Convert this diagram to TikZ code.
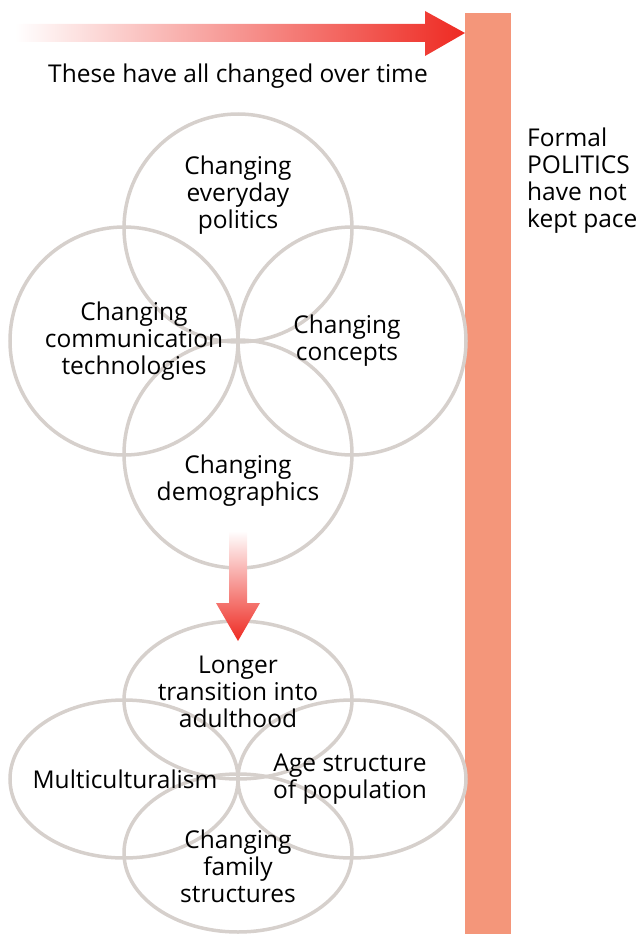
\documentclass[tikz,border=0pt]{standalone}
\usepackage{fontspec}
\setmainfont{Open Sans}
\definecolor{barsalmon}{HTML}{F4967A}
\definecolor{arrowred}{HTML}{EE2A22}
\definecolor{arrowmid}{HTML}{F39072}
\definecolor{ringgray}{HTML}{D6D0CC}
\begin{document}
\begin{tikzpicture}[x=1pt,y=-1pt,
  ring/.style={draw=ringgray,line width=3.5pt},
  lbl/.style={align=center,font=\fontsize{24.5}{27}\selectfont,inner sep=0pt,text=black}]
\useasboundingbox (0,0) rectangle (643,934);
% vertical bar
\fill[barsalmon] (465,13) rectangle (511,934);
% top arrow
\shade[left color=white,middle color=arrowmid,right color=arrowred]
  (15,24) -- (425,24) -- (425,11) -- (465,33) -- (425,56) -- (425,42) -- (15,42) -- cycle;
\node[lbl] (timelbl) at (238,76) {These have all changed over time};
\node[lbl,align=left,anchor=west] (formal) at (527,181) {Formal\\POLITICS\\have not\\kept pace};
% upper circles
\draw[ring] (238,228) circle (114);
\draw[ring] (124,341) circle (114);
\draw[ring] (352,341) circle (114);
\draw[ring] (238,454) circle (114);
\node[lbl] (everyday) at (238,195) {Changing\\everyday\\politics};
\node[lbl] (comm) at (134,341) {Changing\\communication\\technologies};
\node[lbl] (concepts) at (347,341) {Changing\\concepts};
\node[lbl] (demo) at (238,481) {Changing\\demographics};
% lower ellipses
\draw[ring] (238,700) ellipse [x radius=114,y radius=79];
\draw[ring] (124,779) ellipse [x radius=114,y radius=79];
\draw[ring] (352,779) ellipse [x radius=114,y radius=79];
\draw[ring] (238,853) ellipse [x radius=114,y radius=79];
\node[lbl] (adult) at (238,692) {Longer\\transition into\\adulthood};
\node[lbl] (multi) at (125,779) {Multiculturalism};
\node[lbl] (age) at (350,779) {Age structure\\of population};
\node[lbl] (family) at (238,866) {Changing\\family\\structures};
% down arrow
\shade[top color=white,middle color=arrowmid,bottom color=arrowred]
  (229,531) -- (247,531) -- (247,603) -- (260,603) -- (238,641) -- (216,603) -- (229,603) -- cycle;
\end{tikzpicture}
\end{document}
